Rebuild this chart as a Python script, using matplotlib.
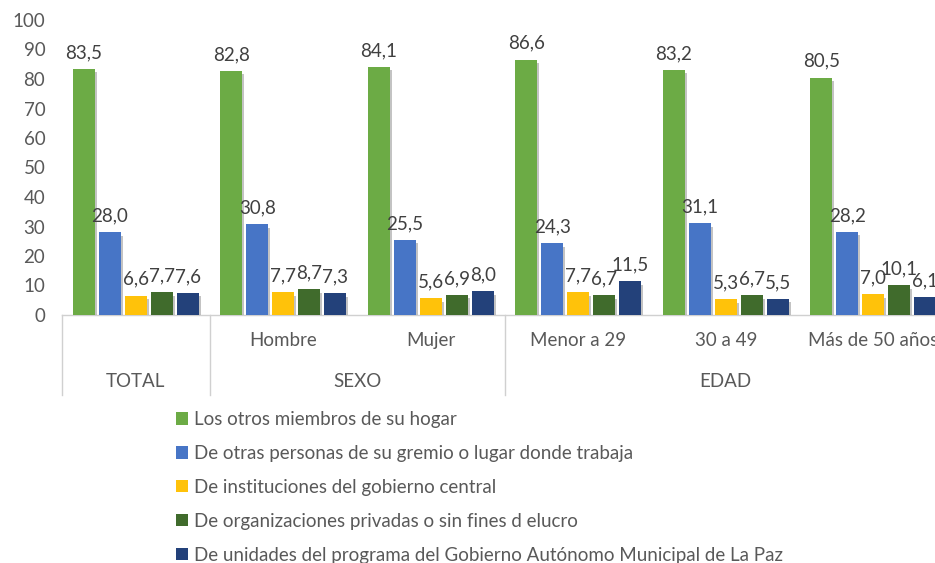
import numpy as np
import matplotlib
matplotlib.use("Agg")
import matplotlib.pyplot as plt
from matplotlib.patches import Patch
import matplotlib.patheffects as pe

plt.rcParams['font.family'] = ['Lato', 'DejaVu Sans']

# Data
groups = ["TOTAL", "Hombre", "Mujer", "Menor a 29", "30 a 49", "Más de 50 años"]
sub_labels = ["", "Hombre", "Mujer", "Menor a 29", "30 a 49", "Más de 50 años"]
top_labels = ["TOTAL", "SEXO", "EDAD"]
top_spans = [(0, 1), (1, 3), (3, 6)]

series_names = [
    "Los otros miembros de su hogar",
    "De otras personas de su gremio o lugar donde trabaja",
    "De instituciones del gobierno central",
    "De organizaciones privadas o sin fines d elucro",
    "De unidades del programa del Gobierno Autónomo Municipal de La Paz",
]
hogar = [83.5, 82.8, 84.1, 86.6, 83.2, 80.5]
gremio = [28.0, 30.8, 25.5, 24.3, 31.1, 28.2]
gob_central = [6.6, 7.7, 5.6, 7.7, 5.3, 7.0]
org_privadas = [7.7, 8.7, 6.9, 6.7, 6.7, 10.1]
gamlp = [7.6, 7.3, 8.0, 11.5, 5.5, 6.1]

series = [hogar, gremio, gob_central, org_privadas, gamlp]
colors = ["#6cab45", "#4775c6", "#ffc20a", "#406b2c", "#23417a"]

text_color = "#595959"
fs = 13.5
fig = plt.figure(figsize=(9.35, 5.63), dpi=100)
ax = fig.add_axes([62 / 935, (563 - 315) / 563, (947 - 62) / 935, 295 / 563])

x = np.arange(len(groups))
pitch = 0.176
width = 0.15
shadow = [pe.SimplePatchShadow(offset=(1.5, -2.5), shadow_rgbFace="#888888", alpha=0.5), pe.Normal()]
for i, (vals, col) in enumerate(zip(series, colors)):
    pos = x + (i - 2) * pitch
    bars = ax.bar(pos, vals, width, color=col, zorder=3)
    for b in bars:
        b.set_path_effects(shadow)
    for p, v in zip(pos, vals):
        ax.text(p, v + 2.6, f"{v:.1f}".replace(".", ","), ha="center", va="bottom",
                fontsize=fs, color="#404040", zorder=4)

ax.set_xlim(-0.5, len(groups) - 0.5)
ax.set_ylim(0, 100)
ax.set_yticks(range(0, 101, 10))
ax.tick_params(axis="y", length=0, pad=12, labelsize=fs, labelcolor=text_color)
ax.set_xticks([])
for s in ["left", "right", "top"]:
    ax.spines[s].set_visible(False)
ax.spines["bottom"].set_color("#d0d0d0")
ax.spines["bottom"].set_linewidth(1.0)

# two-level category axis
trans = ax.get_xaxis_transform()
for xi, lab in zip(x, sub_labels):
    if lab:
        ax.text(xi, -0.085, lab, transform=trans, ha="center", va="center",
                fontsize=fs, color=text_color, clip_on=False)
for lab, (a, b) in zip(top_labels, top_spans):
    ax.text((a + b - 1) / 2, -0.225, lab, transform=trans, ha="center", va="center",
            fontsize=fs, color=text_color, clip_on=False)
    ax.plot([a - 0.5, a - 0.5], [0, -0.27], transform=trans, color="#d0d0d0",
            lw=1.0, clip_on=False)

handles = [Patch(facecolor=c) for c in colors]
fig.legend(handles, series_names, loc="upper left", bbox_to_anchor=(176 / 935, 1 - 411 / 563),
           frameon=False, fontsize=fs, labelcolor=text_color, handlelength=0.65,
           handleheight=0.65, handletextpad=0.3, labelspacing=0.9, borderaxespad=0,
           borderpad=0)

fig.savefig("out.png", dpi=100)
